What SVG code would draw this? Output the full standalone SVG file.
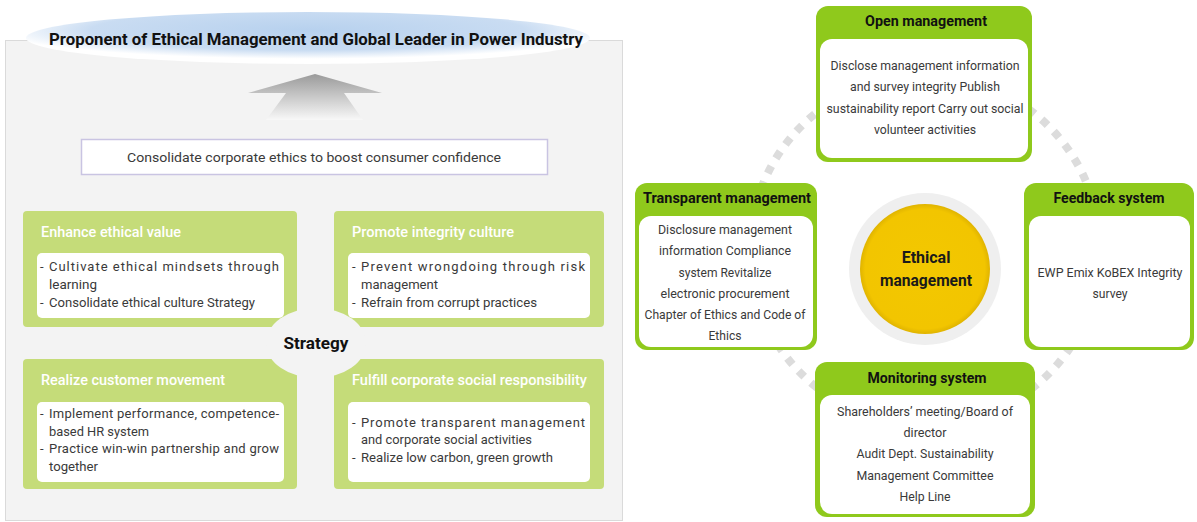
<svg xmlns="http://www.w3.org/2000/svg" width="1197" height="522" viewBox="0 0 1197 522">
<defs>
<radialGradient id="gHead" cx="0.5" cy="0.35" r="0.55">
<stop offset="0" stop-color="#b7d1ee"/>
<stop offset="0.7" stop-color="#c9dcf2"/>
<stop offset="1" stop-color="#ffffff"/>
</radialGradient>
<linearGradient id="gArrow" x1="0" y1="0" x2="0" y2="1">
<stop offset="0" stop-color="#9a9a9a"/>
<stop offset="1" stop-color="#f8f8f8"/>
</linearGradient>
<radialGradient id="gSun" cx="0.5" cy="0.5" r="0.5">
<stop offset="0" stop-color="#f3c800"/>
<stop offset="0.92" stop-color="#f2c500"/>
<stop offset="1" stop-color="#e0b400"/>
</radialGradient>
</defs>
<style>
text{font-family:Roboto,"Liberation Sans",sans-serif;}
.body{font-size:13px;fill:#3a3a3a;}
.lt{font-size:14px;fill:#ffffff;font-weight:500;}
.rt{font-size:14px;fill:#111;font-weight:bold;}
.gl{fill:#c5dc79;}
.gr{fill:#8fc91c;}
.wb{fill:#ffffff;}
</style>
<rect x="0" y="0" width="1197" height="522" fill="#ffffff"/>
<!-- left panel -->
<rect x="5.5" y="40.5" width="617" height="480" fill="#f3f3f3" stroke="#dadada"/>
<g id="headline">
<ellipse cx="308" cy="38" rx="282" ry="26" fill="url(#gHead)"/>
<text x="316" y="45" text-anchor="middle" font-size="17" font-weight="bold" fill="#111" textLength="534" lengthAdjust="spacingAndGlyphs">Proponent of Ethical Management and Global Leader in Power Industry</text>
</g>
<g id="arrow">
<polygon points="315,74 382,93 344,93 363,120 266,120 286,93 248,93" fill="url(#gArrow)"/>
</g>
<g id="goal">
<rect x="81.5" y="139.5" width="466" height="35" fill="#ffffff" stroke="#c9c4e2" stroke-width="1.5"/>
<text class="body" x="314" y="162" font-size="14" text-anchor="middle" textLength="374" lengthAdjust="spacingAndGlyphs">Consolidate corporate ethics to boost consumer confidence</text>
</g>
<g id="box-enhance">
<rect class="gl" x="23" y="211" width="274" height="116" rx="4"/>
<text class="lt" x="41" y="237" textLength="140" lengthAdjust="spacingAndGlyphs">Enhance ethical value</text>
<rect class="wb" x="37" y="253" width="247" height="65" rx="5"/>
<text class="body" x="40" y="271">-</text>
<text class="body" x="49" y="271" textLength="230" lengthAdjust="spacing">Cultivate ethical mindsets through</text>
<text class="body" x="49" y="289" textLength="48" lengthAdjust="spacingAndGlyphs">learning</text>
<text class="body" x="40" y="307">-</text>
<text class="body" x="49" y="307" textLength="206" lengthAdjust="spacingAndGlyphs">Consolidate ethical culture Strategy</text>
</g>
<g id="box-integrity">
<rect class="gl" x="334" y="211" width="270" height="116" rx="4"/>
<text class="lt" x="352" y="237" textLength="162" lengthAdjust="spacingAndGlyphs">Promote integrity culture</text>
<rect class="wb" x="348" y="253" width="242" height="65" rx="5"/>
<text class="body" x="352" y="271">-</text>
<text class="body" x="361" y="271" textLength="224" lengthAdjust="spacing">Prevent wrongdoing through risk</text>
<text class="body" x="361" y="289" textLength="77" lengthAdjust="spacingAndGlyphs">management</text>
<text class="body" x="352" y="307">-</text>
<text class="body" x="361" y="307" textLength="176" lengthAdjust="spacingAndGlyphs">Refrain from corrupt practices</text>
</g>
<g id="box-customer">
<rect class="gl" x="23" y="359" width="274" height="130" rx="4"/>
<text class="lt" x="41" y="385" textLength="184" lengthAdjust="spacingAndGlyphs">Realize customer movement</text>
<rect class="wb" x="37" y="402" width="247" height="80" rx="5"/>
<text class="body" x="40" y="418">-</text>
<text class="body" x="49" y="418" textLength="230" lengthAdjust="spacing">Implement performance, competence-</text>
<text class="body" x="49" y="436" textLength="100" lengthAdjust="spacingAndGlyphs">based HR system</text>
<text class="body" x="40" y="453">-</text>
<text class="body" x="49" y="453" textLength="230" lengthAdjust="spacing">Practice win-win partnership and grow</text>
<text class="body" x="49" y="471" textLength="49" lengthAdjust="spacingAndGlyphs">together</text>
</g>
<g id="box-csr">
<rect class="gl" x="334" y="359" width="270" height="130" rx="4"/>
<text class="lt" x="352" y="385" textLength="235" lengthAdjust="spacingAndGlyphs">Fulfill corporate social responsibility</text>
<rect class="wb" x="348" y="402" width="242" height="80" rx="5"/>
<text class="body" x="352" y="427">-</text>
<text class="body" x="361" y="427" textLength="224" lengthAdjust="spacing">Promote transparent management</text>
<text class="body" x="361" y="444" textLength="171" lengthAdjust="spacingAndGlyphs">and corporate social activities</text>
<text class="body" x="352" y="462">-</text>
<text class="body" x="361" y="462" textLength="192" lengthAdjust="spacingAndGlyphs">Realize low carbon, green growth</text>
</g>
<g id="strategy">
<ellipse cx="316" cy="343" rx="50" ry="35" fill="#f3f3f3"/>
<text x="316" y="349" text-anchor="middle" font-size="17" font-weight="bold" fill="#111" textLength="65" lengthAdjust="spacingAndGlyphs">Strategy</text>
</g>
<!-- right side -->
<g id="connectors">
<circle cx="925" cy="250" r="175" fill="none" stroke="#dcdcdc" stroke-width="8" stroke-dasharray="8 9"/>
</g>
<g id="center">
<circle cx="925" cy="269" r="76" fill="#efefef"/>
<circle cx="925" cy="269" r="65" fill="url(#gSun)"/>
<text x="926" y="263" text-anchor="middle" font-size="16" font-weight="bold" fill="#1a1a1a">Ethical</text>
<text x="926" y="286" text-anchor="middle" font-size="16" font-weight="bold" fill="#1a1a1a" textLength="92" lengthAdjust="spacingAndGlyphs">management</text>
</g>
<g id="open">
<rect class="gr" x="816" y="6" width="216" height="156" rx="12"/>
<text class="rt" x="926" y="26" text-anchor="middle" textLength="122" lengthAdjust="spacingAndGlyphs">Open management</text>
<rect class="wb" x="820" y="39" width="208" height="119" rx="12"/>
<text class="body" x="925" y="70" text-anchor="middle" textLength="189" lengthAdjust="spacingAndGlyphs">Disclose management information</text>
<text class="body" x="925" y="91" text-anchor="middle" textLength="150" lengthAdjust="spacingAndGlyphs">and survey integrity Publish</text>
<text class="body" x="925" y="113" text-anchor="middle" textLength="197" lengthAdjust="spacingAndGlyphs">sustainability report Carry out social</text>
<text class="body" x="925" y="134" text-anchor="middle" textLength="102" lengthAdjust="spacingAndGlyphs">volunteer activities</text>
</g>
<g id="transparent">
<rect class="gr" x="635" y="183" width="182" height="167" rx="12"/>
<text class="rt" x="727" y="203" text-anchor="middle" textLength="168" lengthAdjust="spacingAndGlyphs">Transparent management</text>
<rect class="wb" x="639" y="216" width="174" height="131" rx="12"/>
<text class="body" x="725" y="234" text-anchor="middle" textLength="134" lengthAdjust="spacingAndGlyphs">Disclosure management</text>
<text class="body" x="725" y="255" text-anchor="middle" textLength="132" lengthAdjust="spacingAndGlyphs">information Compliance</text>
<text class="body" x="725" y="277" text-anchor="middle" textLength="93" lengthAdjust="spacingAndGlyphs">system Revitalize</text>
<text class="body" x="725" y="298" text-anchor="middle" textLength="129" lengthAdjust="spacingAndGlyphs">electronic procurement</text>
<text class="body" x="725" y="319" text-anchor="middle" textLength="161" lengthAdjust="spacingAndGlyphs">Chapter of Ethics and Code of</text>
<text class="body" x="725" y="340" text-anchor="middle" textLength="33" lengthAdjust="spacingAndGlyphs">Ethics</text>
</g>
<g id="feedback">
<rect class="gr" x="1024" y="183" width="170" height="167" rx="12"/>
<text class="rt" x="1109" y="203" text-anchor="middle" textLength="111" lengthAdjust="spacingAndGlyphs">Feedback system</text>
<rect class="wb" x="1029" y="216" width="161" height="131" rx="12"/>
<text class="body" x="1110" y="277" text-anchor="middle" textLength="145" lengthAdjust="spacingAndGlyphs">EWP Emix KoBEX Integrity</text>
<text class="body" x="1110" y="298" text-anchor="middle" textLength="35" lengthAdjust="spacingAndGlyphs">survey</text>
</g>
<g id="monitoring">
<rect class="gr" x="815" y="362" width="220" height="155" rx="12"/>
<text class="rt" x="927" y="383" text-anchor="middle" textLength="119" lengthAdjust="spacingAndGlyphs">Monitoring system</text>
<rect class="wb" x="820" y="395" width="210" height="119" rx="12"/>
<text class="body" x="925" y="416" text-anchor="middle" textLength="176" lengthAdjust="spacingAndGlyphs">Shareholders’ meeting/Board of</text>
<text class="body" x="925" y="437" text-anchor="middle" textLength="43" lengthAdjust="spacingAndGlyphs">director</text>
<text class="body" x="925" y="458" text-anchor="middle" textLength="137" lengthAdjust="spacingAndGlyphs">Audit Dept. Sustainability</text>
<text class="body" x="925" y="480" text-anchor="middle" textLength="137" lengthAdjust="spacingAndGlyphs">Management Committee</text>
<text class="body" x="925" y="501" text-anchor="middle" textLength="51" lengthAdjust="spacingAndGlyphs">Help Line</text>
</g>
</svg>
